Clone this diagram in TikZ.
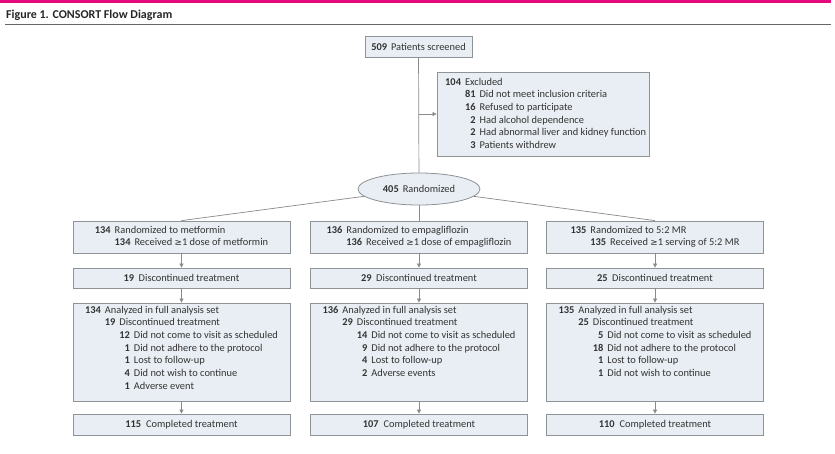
\documentclass[tikz,border=0pt]{standalone}
\usepackage{fontspec}
\setmainfont{Carlito}
\newfontfamily\symf{DejaVu Sans}
\usetikzlibrary{arrows.meta,shapes.geometric}
\definecolor{boxfill}{HTML}{E8EEF3}
\definecolor{boxline}{HTML}{8E9398}
\definecolor{lineclr}{HTML}{8A8A8A}
\definecolor{txt}{HTML}{333333}
\definecolor{jamapink}{HTML}{E5097F}
\newcommand{\atleast}{{\symf\fontsize{8.8}{10}\selectfont ≥}}
\begin{document}
\begin{tikzpicture}[x=1pt,y=-1pt,
  font=\fontsize{10.4}{12.7}\selectfont, text=txt,
  box/.style={draw=boxline, fill=boxfill, line width=0.8pt, inner sep=0pt, minimum width=217pt},
  conn/.style={draw=lineclr, line width=0.7pt},
  arr/.style={conn, -{Triangle[length=4pt,width=4pt]}},
  txtblock/.style={inner sep=0pt, align=left}]
\fill[white] (0,0) rectangle (835,453);
\useasboundingbox (0,0) rectangle (835,453);
% header
\fill[jamapink] (0,0) rectangle (831,3);
\node[anchor=base west, inner sep=0pt, font=\bfseries\fontsize{12}{14}\selectfont, text=black!85] (title) at (6,18.5) {Figure 1. CONSORT Flow Diagram};
\draw[black!60, line width=1.1pt] (5,24.5) -- (831,24.5);

% screened
\node[box, minimum width=107pt, minimum height=21pt] (scr) at (418.5,46.5) {\textbf{509}\hspace{4pt}Patients screened};

% excluded
\node[box, minimum width=212pt, minimum height=84pt] (exc) at (543,114) {};
\node[txtblock, anchor=north west] (exct) at (445,76) {%
\begin{tabular}{@{}r@{\hspace{4pt}}r@{\hspace{4pt}}l@{}}
\textbf{104} & \multicolumn{2}{@{}l@{}}{Excluded}\\
 & \textbf{81} & Did not meet inclusion criteria\\
 & \textbf{16} & Refused to participate\\
 & \textbf{2} & Had alcohol dependence\\
 & \textbf{2} & Had abnormal liver and kidney function\\
 & \textbf{3} & Patients withdrew
\end{tabular}};

% randomized
\node[ellipse, draw=boxline, fill=boxfill, line width=0.8pt, minimum width=122pt, minimum height=32pt, inner sep=0pt] (ell) at (419,189) {\textbf{405}\hspace{4pt}Randomized};

\draw[conn] (scr) -- (ell);
\coordinate (br) at (418.5,114);
\draw[arr] (br) -- (exc.west);

% row 1
\node[box, minimum height=32pt] (r1) at (181.5,237) {%
\begin{tabular}{@{}r@{\hspace{4pt}}r@{\hspace{4pt}}l@{}}
\textbf{134} & \multicolumn{2}{@{}l@{}}{Randomized to metformin}\\
 & \textbf{134} & Received \atleast1 dose of metformin
\end{tabular}};
\node[box, minimum height=32pt] (r2) at (419,237) {%
\begin{tabular}{@{}r@{\hspace{4pt}}r@{\hspace{4pt}}l@{}}
\textbf{136} & \multicolumn{2}{@{}l@{}}{Randomized to empagliflozin}\\
 & \textbf{136} & Received \atleast1 dose of empagliflozin
\end{tabular}};
\node[box, minimum height=32pt] (r3) at (655,237) {%
\begin{tabular}{@{}r@{\hspace{4pt}}r@{\hspace{4pt}}l@{}}
\textbf{135} & \multicolumn{2}{@{}l@{}}{Randomized to 5:2 MR}\\
 & \textbf{135} & Received \atleast1 serving of 5:2 MR
\end{tabular}};

\draw[conn] (ell) -- (r1.north);
\draw[conn] (ell) -- (r2.north);
\draw[conn] (ell) -- (r3.north);

% discontinued
\node[box, minimum height=20pt] (d1) at (181.5,278) {\textbf{19}\hspace{4.5pt}Discontinued treatment};
\node[box, minimum height=20pt] (d2) at (419,278) {\textbf{29}\hspace{4.5pt}Discontinued treatment};
\node[box, minimum height=20pt] (d3) at (655,278) {\textbf{25}\hspace{4.5pt}Discontinued treatment};

% analyzed
\node[box, minimum height=98pt] (a1) at (181.5,352) {};
\node[txtblock, anchor=north] (a1t) at ([yshift=-1.5pt]a1.north) {%
\begin{tabular}{@{}r@{\hspace{4pt}}r@{\hspace{4pt}}r@{\hspace{4pt}}l@{}}
\textbf{134} & \multicolumn{3}{@{}l@{}}{Analyzed in full analysis set}\\
 & \textbf{19} & \multicolumn{2}{@{}l@{}}{Discontinued treatment}\\
 & & \textbf{12} & Did not come to visit as scheduled\\
 & & \textbf{1} & Did not adhere to the protocol\\
 & & \textbf{1} & Lost to follow-up\\
 & & \textbf{4} & Did not wish to continue\\
 & & \textbf{1} & Adverse event
\end{tabular}};
\node[box, minimum height=98pt] (a2) at (419,352) {};
\node[txtblock, anchor=north] (a2t) at ([yshift=-1.5pt]a2.north) {%
\begin{tabular}{@{}r@{\hspace{4pt}}r@{\hspace{4pt}}r@{\hspace{4pt}}l@{}}
\textbf{136} & \multicolumn{3}{@{}l@{}}{Analyzed in full analysis set}\\
 & \textbf{29} & \multicolumn{2}{@{}l@{}}{Discontinued treatment}\\
 & & \textbf{14} & Did not come to visit as scheduled\\
 & & \textbf{9} & Did not adhere to the protocol\\
 & & \textbf{4} & Lost to follow-up\\
 & & \textbf{2} & Adverse events
\end{tabular}};
\node[box, minimum height=98pt] (a3) at (655,352) {};
\node[txtblock, anchor=north] (a3t) at ([yshift=-1.5pt]a3.north) {%
\begin{tabular}{@{}r@{\hspace{4pt}}r@{\hspace{4pt}}r@{\hspace{4pt}}l@{}}
\textbf{135} & \multicolumn{3}{@{}l@{}}{Analyzed in full analysis set}\\
 & \textbf{25} & \multicolumn{2}{@{}l@{}}{Discontinued treatment}\\
 & & \textbf{5} & Did not come to visit as scheduled\\
 & & \textbf{18} & Did not adhere to the protocol\\
 & & \textbf{1} & Lost to follow-up\\
 & & \textbf{1} & Did not wish to continue
\end{tabular}};

% completed
\node[box, minimum height=21pt] (c1) at (181.5,424.5) {\textbf{115}\hspace{5pt}Completed treatment};
\node[box, minimum height=21pt] (c2) at (419,424.5) {\textbf{107}\hspace{5pt}Completed treatment};
\node[box, minimum height=21pt] (c3) at (655,424.5) {\textbf{110}\hspace{5pt}Completed treatment};

% arrows
\foreach \i in {1,2,3}{
  \draw[arr] (r\i) -- (d\i);
  \draw[arr] (d\i) -- (a\i);
  \draw[arr] (a\i) -- (c\i);
}
\end{tikzpicture}
\end{document}
